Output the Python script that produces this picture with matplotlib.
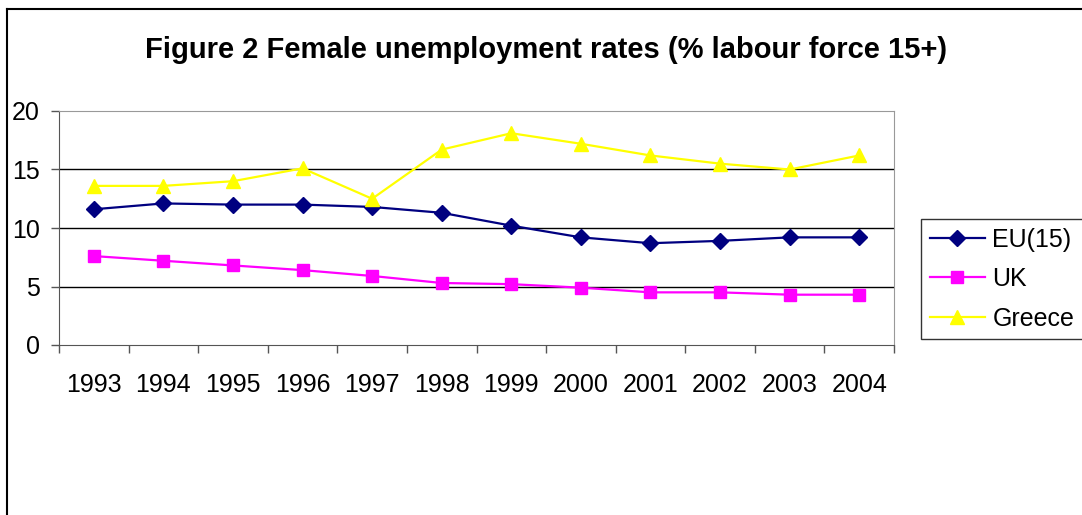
import matplotlib
matplotlib.use("Agg")
import matplotlib.pyplot as plt
from matplotlib.lines import Line2D

plt.rcParams["font.family"] = ["Liberation Sans", "DejaVu Sans"]

years = ["1993", "1994", "1995", "1996", "1997", "1998",
         "1999", "2000", "2001", "2002", "2003", "2004"]
eu15 = [11.6, 12.1, 12.0, 12.0, 11.8, 11.3, 10.2, 9.2, 8.7, 8.9, 9.2, 9.2]
uk = [7.6, 7.2, 6.8, 6.4, 5.9, 5.3, 5.2, 4.9, 4.5, 4.5, 4.3, 4.3]
greece = [13.6, 13.6, 14.0, 15.1, 12.5, 16.7, 18.1, 17.2, 16.2, 15.5, 15.0, 16.2]

W, H = 1082, 515
fig = plt.figure(figsize=(W / 100, H / 100), dpi=100)
ax = fig.add_axes([59 / W, 1 - 345 / H, (894 - 59) / W, (345 - 111) / H])

x = list(range(len(years)))
ax.plot(x, eu15, color="#000080", marker="D", markersize=8, lw=1.6, label="EU(15)")
ax.plot(x, uk, color="#FF00FF", marker="s", markersize=8, lw=1.6, label="UK")
ax.plot(x, greece, color="#FFFF00", marker="^", markersize=10, lw=1.6, label="Greece")

ax.set_xlim(-0.5, len(years) - 0.5)
ax.set_ylim(0, 20)
ax.set_yticks([0, 5, 10, 15, 20])
for yv in [5, 10, 15]:
    ax.axhline(yv, color="black", lw=1.0, zorder=0)

# category boundaries get the tick marks, centres get the labels
ax.set_xticks([i - 0.5 for i in range(len(years) + 1)])
ax.set_xticklabels([])
ax.set_xticks(x, minor=True)
ax.set_xticklabels(years, minor=True)
ax.tick_params(axis="x", which="major", length=6, width=1, color="#555555", direction="out")
ax.tick_params(axis="x", which="minor", length=0, pad=20, labelsize=18)
ax.tick_params(axis="y", length=6, width=1, color="#555555", direction="out", pad=8, labelsize=18)

for side in ["top", "right"]:
    ax.spines[side].set_color("#999999")
for side in ["left", "bottom"]:
    ax.spines[side].set_color("#555555")

fig.text(546 / W, 1 - 50 / H, "Figure 2 Female unemployment rates (% labour force 15+)",
         ha="center", va="center", fontsize=21, fontweight="bold")

leg = ax.legend(loc="center left", bbox_to_anchor=(921 / W, 1 - 279 / H),
                bbox_transform=fig.transFigure, fontsize=18, frameon=True,
                fancybox=False, edgecolor="black", handlelength=2.2,
                handletextpad=0.3, labelspacing=0.62, borderpad=0.35,
                borderaxespad=0)
leg.get_frame().set_linewidth(1.0)

# outer chart frame, cut off on the right and bottom in the reference
fig.add_artist(Line2D([7 / W, 7 / W], [0, 1 - 9 / H], transform=fig.transFigure,
                      color="black", lw=1.5))
fig.add_artist(Line2D([7 / W, 1], [1 - 9 / H, 1 - 9 / H], transform=fig.transFigure,
                      color="black", lw=1.5))

fig.savefig("out.png", dpi=100)
